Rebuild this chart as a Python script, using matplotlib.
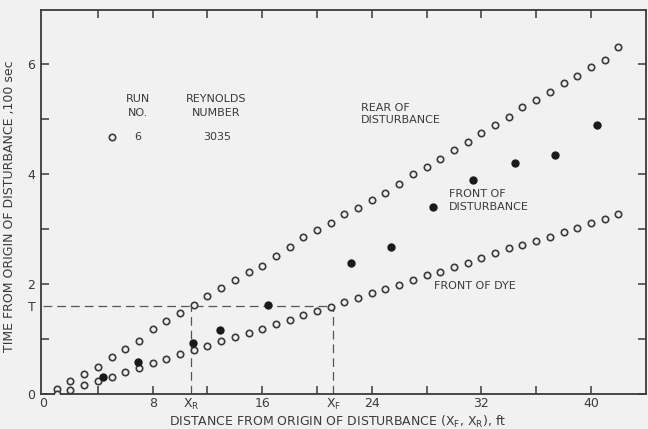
import matplotlib
matplotlib.use("Agg")
import matplotlib.pyplot as plt

# ---------------- data ----------------
dist_ft = [1, 2, 3, 4, 5, 6, 7, 8, 9, 10, 11, 12, 13, 14, 15, 16, 17, 18, 19, 20, 21,
           22, 23, 24, 25, 26, 27, 28, 29, 30, 31, 32, 33, 34, 35, 36, 37, 38, 39, 40, 41, 42]

rear_time = [0.085, 0.24, 0.36, 0.485, 0.667, 0.82, 0.97, 1.19, 1.33, 1.48, 1.61, 1.79,
             1.93, 2.07, 2.22, 2.33, 2.50, 2.67, 2.86, 2.98, 3.11, 3.27, 3.38, 3.53,
             3.66, 3.81, 3.99, 4.13, 4.28, 4.44, 4.58, 4.74, 4.89, 5.04, 5.21, 5.35,
             5.49, 5.65, 5.78, 5.95, 6.08, 6.30]

dye_time = [0.0, 0.08, 0.164, 0.236, 0.30, 0.40, 0.48, 0.56, 0.63, 0.72, 0.80, 0.88,
            0.97, 1.03, 1.11, 1.19, 1.27, 1.35, 1.43, 1.51, 1.58, 1.67, 1.74, 1.83,
            1.91, 1.99, 2.08, 2.16, 2.22, 2.30, 2.39, 2.48, 2.57, 2.65, 2.70, 2.78,
            2.85, 2.94, 3.02, 3.10, 3.19, 3.28]

front_dist = [4.4, 6.95, 10.97, 12.93, 16.4, 22.45, 25.4, 28.46, 31.4, 34.45, 37.4, 40.48]
front_time = [0.30, 0.576, 0.93, 1.17, 1.62, 2.38, 2.68, 3.40, 3.89, 4.19, 4.35, 4.89]

x_R = 10.8
x_F = 21.2
T_val = 1.6

x_major = [0, 8, 16, 24, 32, 40]
x_major_labels = ["0", "8", "16", "24", "32", "40"]
x_minor = [4, 12, 20, 28, 36]
y_major = [0, 2, 4, 6]
y_major_labels = ["0", "2", "4", "6"]
y_minor = [1, 3, 5]

run_no = "6"
reynolds = "3035"

# ---------------- styling ----------------
BG = "#f1f1f1"
INK = "#3a3a3a"
plt.rcParams["font.family"] = ["DejaVu Sans"]
plt.rcParams["mathtext.default"] = "regular"
FS = 8

fig = plt.figure(figsize=(6.48, 4.29), dpi=100, facecolor=BG)
ax = fig.add_axes([41 / 648, (429 - 394) / 429, (645.7 - 41) / 648, 384 / 429])
ax.set_facecolor(BG)

ax.set_xlim(-0.15, 44)
ax.set_ylim(0, 6.98)

mk = dict(linestyle="none", marker="o", markersize=4.6,
          markerfacecolor=BG, markeredgecolor=INK, markeredgewidth=1.2, zorder=3)
ax.plot(dist_ft, rear_time, **mk)
ax.plot(dist_ft, dye_time, **mk)
ax.plot(front_dist, front_time, linestyle="none", marker="o", markersize=5.0,
        markerfacecolor="#1a1a1a", markeredgecolor="#1a1a1a", zorder=4)

# dashed construction lines
dash = dict(color="#555555", linewidth=0.9, dashes=(7, 4), zorder=2)
ax.plot([0, x_F], [T_val, T_val], **dash)
ax.plot([x_R, x_R], [0, T_val], **dash)
ax.plot([x_F, x_F], [0, T_val], **dash)

# spines
for s in ax.spines.values():
    s.set_color(INK)
    s.set_linewidth(1.3)

# ticks
ax.set_xticks(x_major + [x_R, x_F])
ax.set_xticklabels(x_major_labels + [r"X$_{R}$", r"X$_{F}$"])
ax.set_xticks(x_minor, minor=True)
ax.set_yticks(y_major + [T_val])
ax.set_yticklabels(y_major_labels + ["T"])
ax.set_yticks(y_minor, minor=True)
ax.tick_params(axis="both", which="both", direction="in", length=6, width=1.1,
               color=INK, labelcolor=INK, labelsize=FS + 1, top=True, right=True)
ax.tick_params(axis="x", which="both", pad=2)
ax.tick_params(axis="y", which="both", pad=4)
# hide the tick marks for X_R, X_F, T and 0
for t in ax.xaxis.get_major_ticks()[-2:]:
    t.tick1line.set_visible(False)
    t.tick2line.set_visible(False)
ax.xaxis.get_major_ticks()[0].tick1line.set_visible(False)
ax.xaxis.get_major_ticks()[0].tick2line.set_visible(False)
ytks = ax.yaxis.get_major_ticks()
ytks[-1].tick1line.set_visible(False)
ytks[-1].tick2line.set_visible(False)

# axis titles
ax.text(0.49, -0.072, "DISTANCE FROM ORIGIN OF DISTURBANCE (X$_{F}$, X$_{R}$), ft",
        transform=ax.transAxes, ha="center", va="center", fontsize=FS + 1, color=INK)
ax.set_ylabel("TIME FROM ORIGIN OF DISTURBANCE ,100 sec", fontsize=FS + 1, color=INK)
ax.yaxis.set_label_coords(-0.041, 0.488)

# in-plot legend-like annotation
txt = dict(fontsize=FS, color=INK)
ax.text(6.92, 5.24, "RUN\nNO.", ha="center", va="center", linespacing=1.45, **txt)
ax.text(12.65, 5.24, "REYNOLDS\nNUMBER", ha="center", va="center", linespacing=1.45, **txt)
ax.plot([5.02], [4.68], **mk)
ax.text(6.92, 4.68, run_no, ha="center", va="center", **txt)
ax.text(12.7, 4.68, reynolds, ha="center", va="center", **txt)

ax.text(23.2, 5.09, "REAR OF\nDISTURBANCE", ha="left", va="center", linespacing=1.35, **txt)
ax.text(29.66, 3.52, "FRONT OF\nDISTURBANCE", ha="left", va="center", linespacing=1.35, **txt)
ax.text(28.55, 1.96, "FRONT OF DYE", ha="left", va="center", **txt)

fig.savefig("out.png", dpi=100, facecolor=BG)
